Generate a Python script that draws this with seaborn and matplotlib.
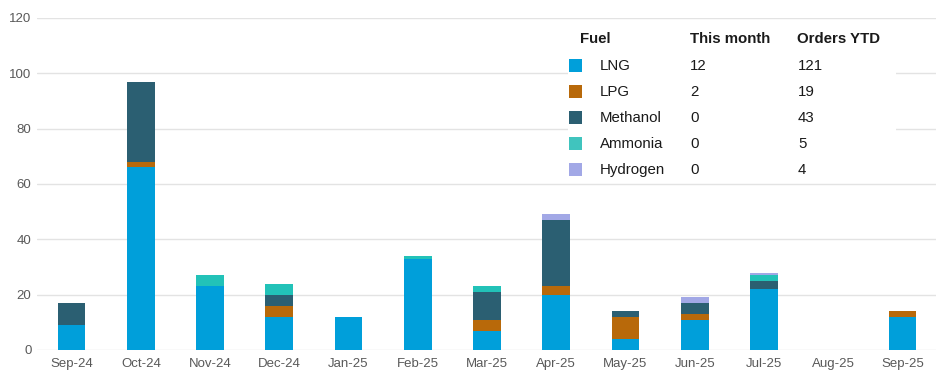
import numpy as np
import pandas as pd
import matplotlib
matplotlib.use("Agg")
import matplotlib.pyplot as plt
import seaborn as sns
from matplotlib.patches import Rectangle

months = ["Sep-24", "Oct-24", "Nov-24", "Dec-24", "Jan-25", "Feb-25", "Mar-25",
          "Apr-25", "May-25", "Jun-25", "Jul-25", "Aug-25", "Sep-25"]
fuels = ["LNG", "LPG", "Methanol", "Ammonia", "Hydrogen"]
lng      = [9, 66, 23, 12, 12, 33, 7, 20, 4, 11, 22, 0, 12]
lpg      = [0, 2, 0, 4, 0, 0, 4, 3, 8, 2, 0, 0, 2]
methanol = [8, 29, 0, 4, 0, 0, 10, 24, 2, 4, 3, 0, 0]
ammonia  = [0, 0, 4, 4, 0, 1, 2, 0, 0, 0, 2, 0, 0]
hydrogen = [0, 0, 0, 0, 0, 0, 0, 2, 0, 2, 1, 0, 0]
this_month = [12, 2, 0, 0, 0]
orders_ytd = [121, 19, 43, 5, 4]
colors = ["#009FDA", "#B8690A", "#2B5F72", "#22C2B8", "#A2A8E6"]
legend_colors = ["#009FDA", "#B8690A", "#2B5F72", "#40C4BE", "#A2A8E6"]

series = [lng, lpg, methanol, ammonia, hydrogen]
df = pd.DataFrame({"month": months})
for f, s in zip(fuels, series):
    df[f] = s
cum = df[fuels].cumsum(axis=1)

sns.set_theme(style="white")
plt.rcParams["font.family"] = ["Liberation Sans", "DejaVu Sans"]

fig = plt.figure(figsize=(9.37, 3.86), dpi=100)
ax = fig.add_axes([37 / 937, 36 / 386, 1 - 37 / 937, (350 - 18) / 386])

for i in range(len(fuels) - 1, -1, -1):
    sns.barplot(x=df["month"], y=cum[fuels[i]], order=months, color=colors[i],
                width=0.4, linewidth=0, saturation=1, ax=ax, zorder=3)

ax.set_ylim(0, 120)
ax.set_xlim(-0.5, len(months) - 0.5)
ax.set_yticks(np.arange(0, 121, 20))
ax.yaxis.grid(True, color="#E3E3E3", linewidth=1, zorder=0)
ax.set_axisbelow(True)
for s in ax.spines.values():
    s.set_visible(False)
ax.set_xlabel("")
ax.set_ylabel("")
ax.tick_params(axis="both", length=0, labelsize=9.5, colors="#595959", pad=6)
ax.tick_params(axis="y", pad=4)

# legend table
box = Rectangle((568 / 937, (386 - 183) / 386), (896 - 568) / 937, (183 - 22) / 386,
                transform=fig.transFigure, facecolor="white", edgecolor="none", zorder=5)
fig.patches.append(box)
tkw = dict(fontsize=10.8, color="#1a1a1a", va="center", zorder=8)
hy = 1 - 39 / 386
fig.text(580 / 937, hy, "Fuel", fontweight="bold", **tkw)
fig.text(690 / 937, hy, "This month", fontweight="bold", **tkw)
fig.text(797 / 937, hy, "Orders YTD", fontweight="bold", **tkw)
row_y = [66, 92, 118, 144, 170]
for f, c, tm, ytd, ry in zip(fuels, legend_colors, this_month, orders_ytd, row_y):
    yy = 1 - ry / 386
    fig.patches.append(Rectangle((569 / 937, yy - 6.5 / 386), 13 / 937, 13 / 386,
                                 transform=fig.transFigure, facecolor=c, edgecolor="none", zorder=6))
    fig.text(600 / 937, yy, f, **tkw)
    fig.text(690 / 937, yy, str(tm), **tkw)
    fig.text(798 / 937, yy, str(ytd), **tkw)

fig.savefig("out.png", dpi=100)
